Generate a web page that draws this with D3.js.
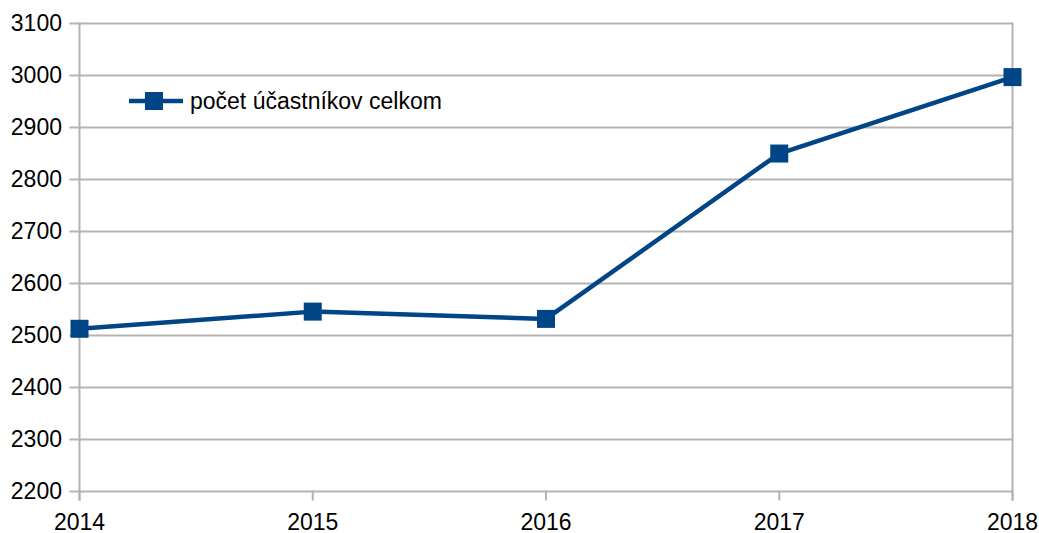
<!DOCTYPE html>
<html>
<head>
<meta charset="utf-8">
<script src="https://cdn.jsdelivr.net/npm/d3@7"></script>
<style>
  body { margin: 0; background: #fff; }
  svg text { font-family: "Liberation Sans", Arial, sans-serif; font-size: 23px; fill: #000; }
</style>
</head>
<body>
<svg class="chart" width="1039" height="533"></svg>
<script>
const years = [2014, 2015, 2016, 2017, 2018]
const participants = [2511, 2544, 2530, 2848, 2995]
const yTicks = [2200, 2300, 2400, 2500, 2600, 2700, 2800, 2900, 3000, 3100]
const seriesName = 'počet účastníkov celkom'

const plotLeft = 79.5, plotRight = 1012.5, plotTop = 22.5, plotBottom = 490.5
const color = '#004586'
const grid = '#b3b3b3'

const svg = d3.select('svg.chart')

const x = d3.scalePoint().domain(years).range([plotLeft, plotRight])
const y = d3.scaleLinear().domain([2200, 3100]).range([plotBottom, plotTop])

// horizontal grid + left ticks
svg.append('g')
  .selectAll('line')
  .data(yTicks)
  .enter()
  .append('line')
  .attr('x1', plotLeft - 10)
  .attr('x2', plotRight)
  .attr('y1', d => Math.round(y(d)) + 0.5)
  .attr('y2', d => Math.round(y(d)) + 0.5)
  .attr('stroke', grid)
  .attr('stroke-width', 2)

// left axis and right border
svg.append('line')
  .attr('x1', plotLeft).attr('x2', plotLeft)
  .attr('y1', plotTop).attr('y2', plotBottom + 10)
  .attr('stroke', grid).attr('stroke-width', 2)

svg.append('line')
  .attr('x1', plotRight).attr('x2', plotRight)
  .attr('y1', plotTop).attr('y2', plotBottom + 10)
  .attr('stroke', grid).attr('stroke-width', 2)

// x ticks below axis
svg.append('g')
  .selectAll('line')
  .data(years)
  .enter()
  .append('line')
  .attr('x1', d => x(d))
  .attr('x2', d => x(d))
  .attr('y1', plotBottom)
  .attr('y2', plotBottom + 10)
  .attr('stroke', grid)
  .attr('stroke-width', 2)

// y labels
svg.append('g')
  .selectAll('text')
  .data(yTicks)
  .enter()
  .append('text')
  .attr('x', 62)
  .attr('y', d => y(d) + 8)
  .attr('text-anchor', 'end')
  .text(d => d)

// x labels
svg.append('g')
  .selectAll('text')
  .data(years)
  .enter()
  .append('text')
  .attr('x', d => x(d))
  .attr('y', 530)
  .attr('text-anchor', 'middle')
  .text(d => d)

// series line
const line = d3.line()
  .x((d, i) => x(years[i]))
  .y(d => y(d))

svg.append('path')
  .datum(participants)
  .attr('d', line)
  .attr('fill', 'none')
  .attr('stroke', color)
  .attr('stroke-width', 4.5)
  .attr('stroke-linejoin', 'round')

svg.append('g')
  .selectAll('rect')
  .data(participants)
  .enter()
  .append('rect')
  .attr('x', (d, i) => x(years[i]) - 9)
  .attr('y', d => y(d) - 9)
  .attr('width', 18)
  .attr('height', 18)
  .attr('fill', color)

// legend
const legend = svg.append('g').attr('transform', 'translate(129,101)')
legend.append('line')
  .attr('x1', 0).attr('x2', 54)
  .attr('y1', 0).attr('y2', 0)
  .attr('stroke', color).attr('stroke-width', 4.5)
legend.append('rect')
  .attr('x', 16).attr('y', -9)
  .attr('width', 18).attr('height', 18)
  .attr('fill', color)
legend.append('text')
  .attr('x', 61)
  .attr('y', 8)
  .text(seriesName)
</script>
</body>
</html>
